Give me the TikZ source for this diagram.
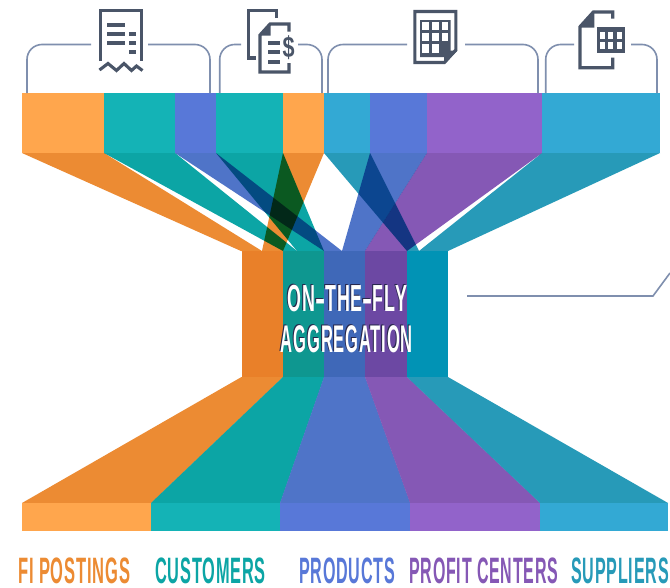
\documentclass[tikz,border=0pt]{standalone}
\usepackage{graphicx}
\usepackage{fontspec}
\setmainfont{Liberation Sans}[LetterSpace=5]
\definecolor{barO}{HTML}{FFA64D}
\definecolor{barT}{HTML}{14B3B6}
\definecolor{barB}{HTML}{5878D8}
\definecolor{barP}{HTML}{9263CA}
\definecolor{barC}{HTML}{33A9D4}
\definecolor{funO}{HTML}{EC8B33}
\definecolor{funT}{HTML}{0CA5A5}
\definecolor{funB}{HTML}{4F74C8}
\definecolor{funP}{HTML}{8558B5}
\definecolor{funC}{HTML}{279AB8}
\definecolor{colO}{HTML}{E98029}
\definecolor{colT}{HTML}{0E9790}
\definecolor{colB}{HTML}{3F68B8}
\definecolor{colP}{HTML}{6C48A3}
\definecolor{colC}{HTML}{0193B5}
\definecolor{lineC}{HTML}{7F8FAE}
\definecolor{iconC}{HTML}{4A5568}
\definecolor{shadowC}{HTML}{26264A}
\tikzset{
  bracket/.style={draw=lineC,line width=1.6pt,rounded corners=15pt},
  leader/.style={draw=lineC,line width=1.6pt},
  iconline/.style={draw=iconC,line width=3.1pt},
  iconbar/.style={draw=iconC,line width=4pt},
  iconfill/.style={fill=iconC},
  caption/.style={inner sep=0pt,anchor=south west,font=\bfseries},
}
\newcommand{\fit}[3]{\resizebox*{#1pt}{#2pt}{#3}}
\newcommand{\widehy}{\scalebox{1.7}[1]{-}}
\begin{document}
\begin{tikzpicture}[x=1pt,y=-1pt]
\useasboundingbox (0,0) rectangle (670,587);
\fill[white] (0,0) rectangle (670,587);
% upper funnel
\begin{scope}[blend mode=multiply]
\fill[funO] (22,153)--(104,153)--(262,251)--(241,251)--cycle;
\fill[funT] (104,153)--(175,153)--(297,251)--(283,251)--cycle;
\fill[funB] (175,153)--(216,153)--(342,251)--(324,251)--cycle;
\fill[funT] (216,153)--(283,153)--(324,251)--(297,251)--cycle;
\fill[funO] (283,153)--(324,153)--(283,251)--(262,251)--cycle;
\fill[funC] (324,153)--(370,153)--(419,251)--(407,251)--cycle;
\fill[funB] (370,153)--(427,153)--(365,251)--(342,251)--cycle;
\fill[funP] (427,153)--(542,153)--(407,251)--(365,251)--cycle;
\fill[funC] (542,153)--(660,153)--(448,251)--(419,251)--cycle;
\end{scope}
% top bars
\fill[barO] (22,93) rectangle (104.3,153);
\fill[barT] (104,93) rectangle (174.8,153);
\fill[barB] (174.5,93) rectangle (216.3,153);
\fill[barT] (216,93) rectangle (283.3,153);
\fill[barO] (283,93) rectangle (324.3,153);
\fill[barC] (324,93) rectangle (370.3,153);
\fill[barB] (370,93) rectangle (427.3,153);
\fill[barP] (427,93) rectangle (542.3,153);
\fill[barC] (542,93) rectangle (660,153);
% column
\fill[colO] (241.5,251) rectangle (283.3,377);
\fill[colT] (283,251) rectangle (324.3,377);
\fill[colB] (324,251) rectangle (365.3,377);
\fill[colP] (365,251) rectangle (407.3,377);
\fill[colC] (407,251) rectangle (448,377);
% lower funnel
\fill[funO] (241.5,377)--(283.3,377)--(151.3,503)--(22,503)--cycle;
\fill[funT] (283,377)--(324.3,377)--(280.3,503)--(151,503)--cycle;
\fill[funB] (324,377)--(365.3,377)--(410.3,503)--(280,503)--cycle;
\fill[funP] (365,377)--(407.3,377)--(540.3,503)--(410,503)--cycle;
\fill[funC] (407,377)--(448,377)--(668,503)--(540,503)--cycle;
% bottom bars
\fill[barO] (22,503) rectangle (151.3,531);
\fill[barT] (151,503) rectangle (280.3,531);
\fill[barB] (280,503) rectangle (410.3,531);
\fill[barP] (410,503) rectangle (540.3,531);
\fill[barC] (540,503) rectangle (668,531);
% brackets
\draw[bracket] (27,93)--(27,44.5)--(91,44.5);
\draw[bracket] (148,44.5)--(210,44.5)--(210,93);
\draw[bracket] (219.7,93)--(219.7,44.5)--(241,44.5);
\draw[bracket] (298,44.5)--(322,44.5)--(322,93);
\draw[bracket] (328,93)--(328,44.5)--(407,44.5);
\draw[bracket] (465,44.5)--(538,44.5)--(538,93);
\draw[bracket] (545.7,93)--(545.7,44.5)--(574,44.5);
\draw[bracket] (631,44.5)--(657,44.5)--(657,93);
\draw[leader] (467,296)--(653,296)--(670,273);
% icon 1: receipt
\draw[iconline,line join=miter] (100.8,61)--(100.8,10.3)--(141.2,10.3)--(141.2,61);
\draw[iconline,line join=miter] (99.5,70)--(108,63.5)--(116.5,70.5)--(124,63.5)--(131.5,70.5)--(136.5,66)--(142.5,70.5);
\draw[iconbar] (107,24.5)--(124.5,24.5);
\draw[iconbar] (107,33.5)--(124.5,33.5);
\draw[iconbar] (107,42.5)--(124.5,42.5);
\draw[iconbar] (129,33.5)--(135.5,33.5);
\draw[iconbar] (129,42.5)--(135.5,42.5);
\draw[iconbar] (129,52)--(135.5,52);
% icon 2: documents with dollar
\draw[iconline,line join=miter] (276.7,18)--(276.7,10.3)--(248.5,10.3)--(248.5,58)--(255.5,58);
\draw[iconline,line join=miter] (289,31.5)--(289,24)--(270,24)--(260,35)--(260,72)--(289,72)--(289,63);
\fill[iconfill] (259,35.5)--(270.5,23)--(270.5,35.5)--cycle;
\draw[iconbar] (268,42.7)--(280,42.7);
\draw[iconbar] (268,51.7)--(280,51.7);
\draw[iconbar] (268,61.7)--(280,61.7);
\node[inner sep=0pt,font=\bfseries,text=iconC] (dollar) at (288.5,47.7) {\fit{12}{24}{\$}};
% icon 3: document with grid
\draw[iconline,line join=miter] (414.9,11.5)--(455.8,11.5)--(455.8,50)--(444.5,62.5)--(414.9,62.5)--cycle;
\fill[iconfill] (420,20)--(450.5,20)--(450.5,53.5)--(445,53.5)--(445,57)--(420,57)--cycle;
\fill[iconfill] (444,64)--(444,50.7)--(457.5,50.7)--cycle;
\foreach \xa/\xb in {422.3/429.3,432.3/439,441.7/448.3}{
  \fill[white] (\xa,21.7) rectangle (\xb,30);
  \fill[white] (\xa,33.3) rectangle (\xb,40.7);
}
\fill[white] (422.3,44.3) rectangle (429.3,52.7);
\fill[white] (432.3,44.3) rectangle (439,52.7);
% icon 4: document with table
\draw[iconline,line join=miter] (612.7,18.5)--(612.7,12)--(593.3,12)--(580,26.7)--(580,67.7)--(612.7,67.7)--(612.7,57.5);
\fill[iconfill] (579,27.5)--(594.3,10.7)--(594.3,27.5)--cycle;
\fill[iconfill] (596.7,27.3) rectangle (624.7,52.7);
\foreach \xa/\xb in {600/605,608.3/613.3,616.7/621.7}{
  \fill[white] (\xa,31.7) rectangle (\xb,39.3);
  \fill[white] (\xa,41.7) rectangle (\xb,49.3);
}
% centre text
\node[caption,text=shadowC] (s1) at (286.3,310.7) {\fit{119.4}{26.7}{ON\widehy THE\widehy FLY}};
\node[caption,text=shadowC] (s2) at (279.7,352.3) {\fit{132}{27.3}{AGGREGATION}};
\node[caption,text=white] (t1) at (287.3,311.7) {\fit{119.4}{26.7}{ON\widehy THE\widehy FLY}};
\node[caption,text=white] (t2) at (280.7,353.3) {\fit{132}{27.3}{AGGREGATION}};
% bottom labels
\node[caption,text=funO] (l1) at (18,584) {\fit{112}{26}{FI POSTINGS}};
\node[caption,text=funT] (l2) at (155,584) {\fit{110.7}{26}{CUSTOMERS}};
\node[caption,text=barB] (l3) at (299,584) {\fit{96}{26}{PRODUCTS}};
\node[caption,text=funP] (l4) at (409,584) {\fit{149}{26}{PROFIT CENTERS}};
\node[caption,text=funC] (l5) at (571,584) {\fit{97.6}{26}{SUPPLIERS}};
\end{tikzpicture}
\end{document}
